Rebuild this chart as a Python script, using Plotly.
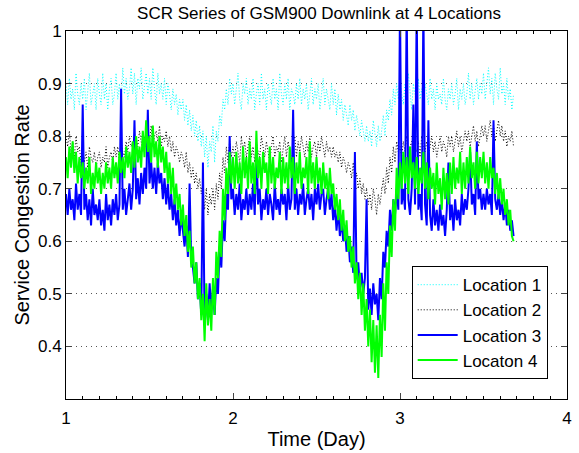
import plotly.graph_objects as go

# ---- data ----
DAY_START = 1.0
STEP = 0.01  # sampling step in days

location1 = [
    0.90,0.86,0.91,0.87,0.89,0.85,0.92,0.88,0.86,0.90,
    0.87,0.91,0.85,0.89,0.92,0.86,0.88,0.90,0.85,0.91,
    0.88,0.86,0.92,0.87,0.90,0.85,0.89,0.91,0.86,0.88,
    0.92,0.87,0.90,0.86,0.93,0.88,0.91,0.87,0.89,0.93,
    0.88,0.92,0.86,0.91,0.89,0.93,0.87,0.90,0.92,0.88,
    0.91,0.87,0.93,0.89,0.86,0.92,0.88,0.90,0.87,0.91,
    0.86,0.90,0.88,0.85,0.89,0.86,0.88,0.84,0.87,0.85,
    0.87,0.83,0.86,0.82,0.85,0.81,0.84,0.80,0.83,0.79,
    0.82,0.78,0.81,0.76,0.80,0.74,0.79,0.77,0.82,0.75,
    0.81,0.79,0.84,0.82,0.87,0.85,0.89,0.86,0.91,0.88,
    0.90,0.86,0.89,0.92,0.87,0.85,0.90,0.88,0.91,0.86,
    0.89,0.87,0.91,0.85,0.88,0.90,0.86,0.92,0.87,0.89,
    0.85,0.90,0.88,0.86,0.91,0.87,0.89,0.85,0.92,0.88,
    0.86,0.90,0.87,0.91,0.85,0.89,0.88,0.86,0.90,0.87,
    0.91,0.86,0.89,0.87,0.90,0.85,0.88,0.91,0.86,0.89,
    0.87,0.90,0.85,0.88,0.91,0.86,0.89,0.87,0.85,0.90,
    0.86,0.89,0.84,0.88,0.85,0.87,0.83,0.86,0.84,0.82,
    0.86,0.83,0.85,0.81,0.84,0.82,0.80,0.83,0.81,0.79,
    0.82,0.79,0.81,0.78,0.83,0.80,0.78,0.82,0.79,0.81,
    0.84,0.80,0.85,0.83,0.87,0.84,0.89,0.86,0.90,0.87,
    0.91,0.88,0.86,0.90,0.87,0.92,0.89,0.85,0.90,0.88,
    0.86,0.91,0.87,0.89,0.85,0.90,0.88,0.86,0.91,0.87,
    0.89,0.85,0.90,0.87,0.88,0.86,0.91,0.87,0.85,0.89,
    0.87,0.90,0.86,0.88,0.91,0.85,0.89,0.87,0.90,0.86,
    0.88,0.92,0.87,0.90,0.86,0.89,0.91,0.87,0.90,0.88,
    0.92,0.87,0.90,0.93,0.88,0.91,0.86,0.92,0.89,0.87,
    0.93,0.88,0.90,0.86,0.91,0.87,0.89,0.85,0.88,
]

location2 = [
    0.80,0.78,0.81,0.77,0.79,0.76,0.80,0.77,0.78,0.75,
    0.78,0.75,0.77,0.74,0.78,0.76,0.75,0.77,0.74,0.76,
    0.77,0.74,0.76,0.75,0.78,0.74,0.76,0.77,0.75,0.78,
    0.76,0.78,0.75,0.79,0.77,0.76,0.79,0.77,0.80,0.78,
    0.79,0.77,0.80,0.78,0.81,0.79,0.77,0.80,0.78,0.81,
    0.79,0.82,0.78,0.80,0.81,0.79,0.82,0.78,0.80,0.79,
    0.81,0.78,0.80,0.77,0.79,0.76,0.78,0.77,0.75,0.77,
    0.76,0.74,0.77,0.73,0.75,0.72,0.74,0.71,0.73,0.70,
    0.72,0.69,0.71,0.66,0.70,0.65,0.69,0.67,0.70,0.66,
    0.71,0.68,0.73,0.70,0.76,0.73,0.78,0.75,0.79,0.76,
    0.78,0.76,0.79,0.77,0.75,0.80,0.77,0.79,0.76,0.78,
    0.80,0.76,0.78,0.75,0.79,0.77,0.76,0.80,0.78,0.76,
    0.79,0.77,0.75,0.78,0.80,0.76,0.78,0.77,0.79,0.75,
    0.78,0.80,0.76,0.79,0.77,0.75,0.78,0.80,0.76,0.79,
    0.77,0.80,0.78,0.76,0.79,0.77,0.80,0.76,0.78,0.79,
    0.76,0.79,0.77,0.80,0.78,0.76,0.79,0.77,0.78,0.76,
    0.78,0.76,0.77,0.75,0.77,0.74,0.76,0.75,0.73,0.75,
    0.74,0.72,0.75,0.71,0.73,0.70,0.72,0.69,0.71,0.68,
    0.70,0.67,0.69,0.66,0.70,0.68,0.65,0.69,0.67,0.70,
    0.72,0.69,0.74,0.71,0.76,0.73,0.78,0.75,0.79,0.77,
    0.78,0.76,0.79,0.77,0.80,0.76,0.78,0.79,0.76,0.78,
    0.77,0.79,0.76,0.80,0.78,0.77,0.79,0.76,0.78,0.80,
    0.77,0.79,0.76,0.78,0.80,0.77,0.79,0.78,0.76,0.80,
    0.78,0.80,0.77,0.79,0.81,0.78,0.80,0.77,0.79,0.81,
    0.79,0.81,0.78,0.80,0.82,0.79,0.81,0.78,0.80,0.82,
    0.80,0.82,0.79,0.81,0.83,0.80,0.82,0.79,0.81,0.83,
    0.80,0.82,0.79,0.81,0.78,0.80,0.79,0.81,0.78,
]

location3 = [
    0.69,0.65,0.70,0.66,0.68,0.64,0.71,0.66,0.69,0.65,
    0.86,0.66,0.69,0.64,0.68,0.63,0.70,0.65,0.67,0.64,
    0.68,0.63,0.66,0.62,0.69,0.64,0.67,0.63,0.68,0.65,
    0.69,0.64,0.67,0.89,0.66,0.70,0.65,0.68,0.71,0.66,
    0.70,0.83,0.68,0.72,0.67,0.73,0.69,0.74,0.70,0.85,
    0.71,0.75,0.70,0.74,0.69,0.75,0.71,0.73,0.68,0.72,
    0.67,0.71,0.66,0.69,0.64,0.68,0.63,0.66,0.61,0.65,
    0.62,0.59,0.63,0.57,0.71,0.56,0.55,0.52,0.56,0.49,
    0.52,0.46,0.75,0.44,0.50,0.45,0.52,0.47,0.51,0.46,
    0.53,0.50,0.59,0.55,0.64,0.60,0.69,0.66,0.80,0.68,
    0.70,0.65,0.69,0.66,0.71,0.64,0.68,0.66,0.70,0.65,
    0.69,0.66,0.71,0.65,0.78,0.67,0.70,0.64,0.68,0.66,
    0.70,0.65,0.69,0.67,0.64,0.71,0.66,0.68,0.65,0.70,
    0.67,0.69,0.64,0.71,0.66,0.68,0.85,0.66,0.70,0.65,
    0.69,0.67,0.71,0.65,0.68,0.70,0.66,0.69,0.64,0.70,
    0.67,0.71,0.66,0.69,0.70,0.65,0.68,0.70,0.66,0.69,
    0.64,0.67,0.62,0.66,0.61,0.64,0.60,0.63,0.58,0.61,
    0.56,0.59,0.54,0.77,0.53,0.56,0.51,0.54,0.50,0.53,
    0.68,0.47,0.51,0.46,0.52,0.48,0.50,0.45,0.53,0.49,
    0.58,0.55,0.62,0.59,0.66,0.62,0.68,0.65,0.70,0.66,
    1.05,0.67,0.70,0.66,1.05,0.68,0.65,0.70,0.86,0.67,
    1.05,0.66,0.69,0.64,1.05,0.67,0.63,0.83,0.65,0.62,
    0.68,0.63,0.66,0.62,0.67,0.63,0.65,0.61,0.66,0.75,
    0.64,0.67,0.62,0.68,0.64,0.66,0.63,0.69,0.65,0.68,
    0.66,0.70,0.77,0.67,0.69,0.65,0.79,0.68,0.70,0.66,
    0.69,0.66,0.70,0.67,0.69,0.65,0.83,0.68,0.66,0.69,
    0.65,0.68,0.64,0.67,0.63,0.66,0.62,0.64,0.61,
]

location4 = [
    0.76,0.72,0.78,0.74,0.79,0.73,0.77,0.71,0.76,0.72,
    0.75,0.70,0.74,0.71,0.76,0.69,0.73,0.70,0.75,0.71,
    0.74,0.69,0.73,0.70,0.75,0.71,0.74,0.70,0.76,0.72,
    0.75,0.71,0.77,0.73,0.76,0.72,0.78,0.74,0.77,0.73,
    0.79,0.74,0.80,0.75,0.78,0.74,0.81,0.76,0.83,0.77,
    0.80,0.75,0.82,0.76,0.79,0.74,0.80,0.75,0.78,0.73,
    0.77,0.71,0.75,0.69,0.74,0.67,0.71,0.66,0.69,0.63,
    0.67,0.61,0.65,0.58,0.62,0.55,0.59,0.52,0.56,0.49,
    0.53,0.45,0.50,0.41,0.52,0.44,0.49,0.43,0.53,0.46,
    0.58,0.53,0.62,0.57,0.70,0.64,0.74,0.69,0.77,0.71,
    0.76,0.70,0.77,0.71,0.75,0.69,0.78,0.72,0.76,0.70,
    0.79,0.71,0.75,0.69,0.81,0.72,0.76,0.70,0.77,0.73,
    0.75,0.69,0.78,0.71,0.76,0.70,0.74,0.72,0.77,0.69,
    0.76,0.71,0.75,0.70,0.78,0.72,0.76,0.69,0.75,0.71,
    0.77,0.70,0.74,0.72,0.76,0.69,0.79,0.71,0.75,0.70,
    0.76,0.71,0.74,0.69,0.75,0.70,0.73,0.68,0.74,0.69,
    0.71,0.66,0.69,0.64,0.68,0.62,0.66,0.60,0.64,0.58,
    0.61,0.55,0.59,0.52,0.56,0.49,0.54,0.46,0.52,0.43,
    0.49,0.40,0.47,0.37,0.45,0.35,0.44,0.34,0.46,0.38,
    0.52,0.43,0.56,0.50,0.63,0.57,0.68,0.62,0.74,0.68,
    0.75,0.70,0.77,0.71,0.76,0.69,0.78,0.72,0.75,0.70,
    0.76,0.69,0.74,0.71,0.77,0.70,0.75,0.68,0.74,0.70,
    0.73,0.67,0.75,0.69,0.72,0.66,0.74,0.68,0.73,0.67,
    0.75,0.69,0.76,0.70,0.74,0.71,0.77,0.69,0.75,0.70,
    0.76,0.71,0.78,0.72,0.75,0.70,0.77,0.71,0.76,0.72,
    0.77,0.71,0.75,0.70,0.76,0.72,0.74,0.69,0.73,0.68,
    0.72,0.67,0.70,0.65,0.68,0.63,0.66,0.61,0.60,
]

series_names = ["Location 1", "Location 2", "Location 3", "Locaton 4"]
x_tick_vals = [1, 2, 3, 4]
y_tick_vals = [0.4, 0.5, 0.6, 0.7, 0.8, 0.9, 1.0]
y_tick_text = ["0.4", "0.5", "0.6", "0.7", "0.8", "0.9", "1"]

n = len(location1)
days = [round(DAY_START + i * STEP, 4) for i in range(n)]

FONT = "Liberation Sans, Arial, Helvetica, sans-serif"

fig = go.Figure()
styles = [
    dict(color="#00FFFF", width=1, dash="1px,2px"),
    dict(color="#000000", width=1, dash="1px,2px"),
    dict(color="#0000FF", width=2),
    dict(color="#00FF00", width=2),
]
for name, vals, st in zip(series_names, [location1, location2, location3, location4], styles):
    fig.add_trace(go.Scatter(x=days, y=vals, mode="lines", name=name, line=st))

fig.update_layout(
    width=579, height=453,
    margin=dict(l=66, r=7, t=31, b=47),
    paper_bgcolor="white", plot_bgcolor="white",
    font=dict(family=FONT, size=17, color="black"),
    title=dict(text="SCR Series of GSM900 Downlink at 4 Locations",
               x=(66 + 572) / 2 / 579, xanchor="center",
               y=1 - 13 / 453, yanchor="middle",
               font=dict(size=17)),
    showlegend=True,
    legend=dict(x=0.690, y=0.361, xanchor="left", yanchor="top",
                bgcolor="white", bordercolor="black", borderwidth=1,
                font=dict(size=17), itemwidth=40, tracegroupgap=0),
)
fig.update_xaxes(
    range=[1, 4], tickvals=x_tick_vals, ticks="inside", ticklen=6,
    showline=True, linecolor="black", linewidth=1, mirror="ticks",
    showgrid=False, zeroline=False,
    minor=dict(dtick=0.1, ticks="inside", ticklen=3, tickcolor="black", showgrid=False),
    title=dict(text="Time (Day)", standoff=4),
    ticklabelstandoff=4,
)
fig.update_yaxes(
    range=[0.3, 1.0], tickvals=y_tick_vals, ticktext=y_tick_text,
    ticks="inside", ticklen=6,
    showline=True, linecolor="black", linewidth=1, mirror="ticks",
    showgrid=True, gridcolor="#555555", gridwidth=1, griddash="1px,4px",
    zeroline=False,
    title=dict(text="Service Congestion Rate", standoff=2),
)

fig.write_html("out.html")
